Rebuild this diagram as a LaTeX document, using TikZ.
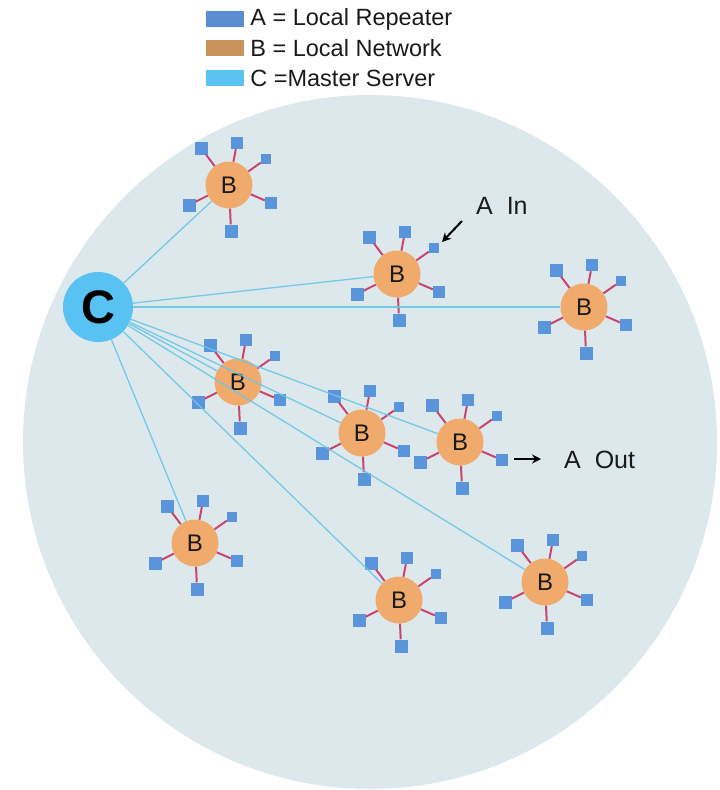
\documentclass[tikz,border=0pt]{standalone}
\usepackage{fontspec}
\setmainfont{Liberation Sans}
\usepackage{xcolor}
\usepackage{tikz}
\usetikzlibrary{positioning,arrows.meta}
\definecolor{disk}{HTML}{DCE8EC}
\definecolor{netfill}{HTML}{EFAA6C}
\definecolor{repfill}{HTML}{5A95DC}
\definecolor{masterfill}{HTML}{58C2F2}
\definecolor{linkc}{HTML}{6CC6E6}
\definecolor{stemc}{HTML}{C8456E}
\definecolor{keyA}{HTML}{5A8ED0}
\definecolor{keyB}{HTML}{C8925C}
\definecolor{keyC}{HTML}{5BC3F3}
\definecolor{ink}{HTML}{1A1A1A}
\tikzset{
  net/.style={circle, fill=netfill, minimum size=47pt, inner sep=0pt, text=ink, font=\fontsize{24}{28}\selectfont},
  master/.style={circle, fill=masterfill, minimum size=70pt, inner sep=0pt, text=black, font=\fontsize{47}{56}\selectfont\bfseries},
  rep/.style={rectangle, fill=repfill, inner sep=0pt, minimum size=#1},
  rep/.default=12pt,
  stem/.style={draw=stemc, line width=2pt},
  link/.style={draw=linkc, line width=1.3pt, opacity=0.9},
  ptr/.style={draw=black, line width=2pt, -{Stealth[length=9pt,width=9pt]}},
  lab/.style={text=ink, inner sep=0pt, font=\fontsize{25}{30}\selectfont},
  swatch/.style={rectangle, minimum width=38pt, minimum height=16pt, inner sep=0pt},
  legtext/.style={text=ink, inner sep=0pt, font=\fontsize{23.5}{28}\selectfont},
}
\begin{document}
\begin{tikzpicture}[x=1pt, y=-1pt]
  \useasboundingbox (0,0) rectangle (720,790);
  \fill[disk] (370,442) circle (347pt);

  % legend
  \node[swatch, fill=keyA] (kA) at (225,19) {};
  \node[swatch, fill=keyB] (kB) at (225,48) {};
  \node[swatch, fill=keyC] (kC) at (225,78) {};
  \node[legtext, right=6pt of kA] (tA) {A = Local Repeater};
  \node[legtext, right=6pt of kB] (tB) {B = Local Network};
  \node[legtext, right=6pt of kC] (tC) {C =Master Server};

  % master server
  \node[master] (C) at (98,307) {C};

  % local networks with their repeaters
  \foreach \n/\x/\y in {1/229/185, 2/397/274, 3/584/307, 4/238/382, 5/362/433,
                        6/460/442, 7/195/543, 8/399/600, 9/545/582}{
    \node[net] (B\n) at (\x,\y) {B};
    \foreach \k/\dx/\dy/\s in {1/-28/-37/13pt, 2/8/-42/12pt, 3/37/-26/10pt,
                               4/42/18/12pt, 5/2/46/13pt, 6/-40/20/13pt}{
      \node[rep=\s] (A\n\k) at ([shift={(\dx,\dy)}]B\n) {};
      \draw[stem] (B\n) -- (A\n\k);
    }
  }

  % links to the master
  \foreach \n in {1,...,9}
    \draw[link] (C) -- (B\n);

  % in / out
  \node[lab, anchor=west] (ain) at (476,206) {A\ \ In};
  \coordinate (inTail) at (462,221);
  \coordinate (inTip) at (442,242);
  \draw[ptr] (inTail) -- (inTip);

  \node[lab, anchor=west] (aout) at (564,460) {A\ \ Out};
  \coordinate (outTail) at (514,459);
  \coordinate (outTip) at (541,459);
  \draw[ptr] (outTail) -- (outTip);
\end{tikzpicture}
\end{document}
